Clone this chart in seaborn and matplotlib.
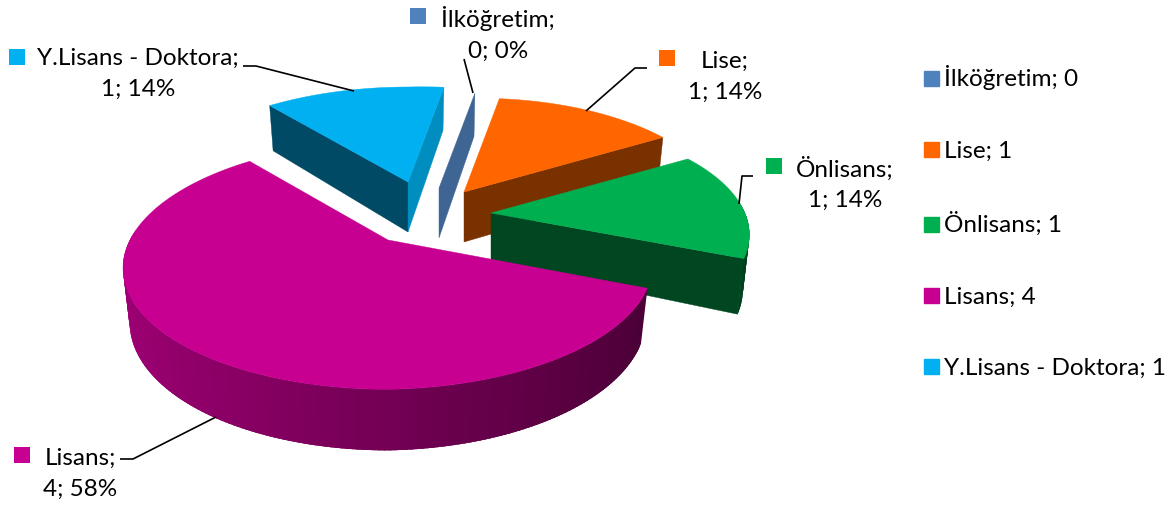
"""Exploded 3D-style pie of education levels, drawn with seaborn/matplotlib."""

import matplotlib
matplotlib.use("Agg")
import matplotlib.pyplot as plt
from matplotlib.lines import Line2D
import numpy as np
import seaborn as sns

CATEGORIES = ["İlköğretim", "Lise", "Önlisans", "Lisans", "Y.Lisans - Doktora"]
VALUES = [0, 1, 1, 4, 1]
PERCENTS = [0, 14, 14, 58, 14]
COLORS = ["#4F81BD", "#FF6600", "#00B050", "#C80092", "#00B0F0"]

# layout (pixels), one entry per category
APEX = [(439, 188), (464, 192), (491, 213), (388, 240), (408, 182)]
SCALE = [1.0, 0.985, 0.975, 1.0, 1.0]
SCALE_Y = [1.0, 1.0, 1.0, 1.03, 1.0]
START_SHADE = [None, None, None, None, 0.42]
END_SHADE = [0.78, 0.48, 0.40, None, 0.80]
DRAW_ORDER = [4, 0, 1, 2, 3]
START_ANGLE = 10.5
FONT_SIZE = 17.5

LABEL_POS = [(498, 34), (725, 77), (845, 184), (80, 474), (138, 74)]
LABEL_SQUARE = [(418, 16), (667, 58), (774, 166), (22, 455), (17, 57)]
LEADERS = [
    [(464, 59), (473, 93)],
    [(647, 68), (635, 68), (586, 111)],
    [(753, 176), (742, 176), (739, 204)],
    [(120, 459), (133, 459), (216, 417)],
    [(243, 66), (256, 66), (354, 91)],
]


def project(theta, i, lowered=False):
    """Map pie angle (deg, clockwise from top) to a pixel, with fake perspective."""
    t = np.radians(theta)
    s, c = np.sin(t), np.cos(t)
    dx = s * (258 - 62 * c) * SCALE[i]
    dy = (-c * (120 - 25 * c) * SCALE[i] - 5 * np.maximum(s, 0)) * SCALE_Y[i]
    if lowered:
        dx = dx * 0.975
        dy = dy + 52 - 9 * c
    return APEX[i][0] + dx, APEX[i][1] + dy


def shaded(color, factor):
    return tuple(np.array(matplotlib.colors.to_rgb(color)) * factor)


def draw_radial_wall(ax, theta, i, color):
    apex = APEX[i]
    x, y = project(theta, i)
    xl, yl = project(theta, i, lowered=True)
    ax.fill(
        [apex[0], x, xl, apex[0]], [apex[1], y, yl, apex[1] + 50],
        color=color, linewidth=0.3,
    )


def draw_slice(ax, i, start, end):
    apex = APEX[i]
    color = COLORS[i]

    # outer wall only where it faces the viewer, shaded left to right;
    # each strip runs on under the next one so no seams show
    for a in np.arange(start, end, 1.0)[::-1]:
        if np.cos(np.radians(a)) > 0.05:
            continue
        b = min(a + 2.5, end)
        top = project(np.linspace(a, b, 4), i)
        low = project(np.linspace(b, a, 4), i, lowered=True)
        shade = 0.58 - 0.22 * np.sin(np.radians(a + 0.5))
        ax.fill(np.r_[top[0], low[0]], np.r_[top[1], low[1]],
                color=shaded(color, shade), linewidth=0)

    if START_SHADE[i] is not None:
        draw_radial_wall(ax, start, i, shaded(color, START_SHADE[i]))
    if END_SHADE[i] is not None:
        draw_radial_wall(ax, end, i, shaded(color, END_SHADE[i]))
    if end == start:
        return

    xs, ys = project(np.linspace(start, end, 150), i)
    ax.fill(np.r_[apex[0], xs], np.r_[apex[1], ys], color=color, linewidth=0.3)


sns.set_theme(style="white")
plt.rcParams["font.family"] = ["Lato", "DejaVu Sans"]
palette = sns.color_palette(COLORS)

fig = plt.figure(figsize=(11.7, 5.09), dpi=100)
ax = fig.add_axes([0, 0, 1, 1])
ax.set_xlim(0, 1170)
ax.set_ylim(509, 0)
ax.axis("off")

edges = START_ANGLE + np.r_[0, np.cumsum(VALUES)] * 360 / sum(VALUES)
for i in DRAW_ORDER:
    draw_slice(ax, i, edges[i], edges[i + 1])

for pts in LEADERS:
    xs, ys = zip(*pts)
    ax.plot(xs, ys, color="black", linewidth=1.2, solid_capstyle="butt")

for i, cat in enumerate(CATEGORIES):
    ax.text(
        *LABEL_POS[i], f"{cat};\n{VALUES[i]}; {PERCENTS[i]}%",
        ha="center", va="center", fontsize=FONT_SIZE, color="black", linespacing=1.55,
    )
    ax.scatter(*LABEL_SQUARE[i], marker="s", s=120, color=palette[i], linewidths=0)

handles = [
    Line2D([], [], linestyle="none", marker="s", markersize=10.8, color=palette[i],
           label=f"{cat}; {VALUES[i]}")
    for i, cat in enumerate(CATEGORIES)
]
ax.legend(
    handles=handles, loc="upper left", bbox_to_anchor=(912 / 1170, 1 - 58 / 509),
    frameon=False, fontsize=FONT_SIZE, labelspacing=2.07, handlelength=1.0,
    handletextpad=0.02, borderaxespad=0, borderpad=0.3, labelcolor="black",
)

fig.savefig("out.png", dpi=100)
